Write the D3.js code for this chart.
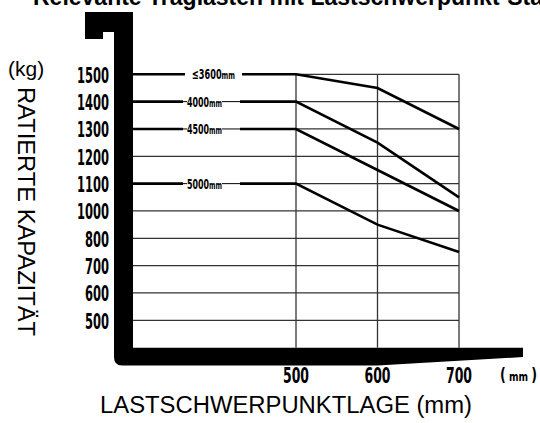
<!DOCTYPE html>
<html>
<head>
<meta charset="utf-8">
<script src="https://cdn.jsdelivr.net/npm/d3@7"></script>
<style>
  html, body { margin: 0; padding: 0; background: #fff; }
  svg { display: block; }
</style>
</head>
<body>
<div id="chart"></div>
<script>
// capacity ticks (kg), top to bottom - equally spaced on the chart
const capacityTicks = [1500, 1400, 1300, 1200, 1100, 1000, 800, 700, 600, 500];
// load centre ticks (mm)
const loadCentres = [500, 600, 700];
// lift heights
const seriesNames = ["≤3600", "4000", "4500", "5000"];
// capacities at 500 / 600 / 700 mm load centre
const cap3600 = [1500, 1450, 1300];
const cap4000 = [1400, 1250, 1050];
const cap4500 = [1300, 1150, 1000];
const cap5000 = [1100, 900, 750];

const width = 540, height = 423;
const condensed = "'Liberation Sans Narrow', 'DejaVu Sans Condensed', 'Liberation Sans', Arial, sans-serif";
const regular = "'Liberation Sans', Arial, sans-serif";

const svg = d3.select("#chart").append("svg")
    .attr("width", width)
    .attr("height", height);

// y: tick labels sit on equal steps, values map piecewise between them
const yPoint = d3.scalePoint().domain(capacityTicks).range([74.3, 320.3]);
const y = d3.scaleLinear().domain(capacityTicks).range(capacityTicks.map(d => yPoint(d)));
const step = yPoint.step();
const plotBottom = yPoint(500) + step;

// x: the flat part of each line starts at the fork face (300 mm)
const x = d3.scaleLinear().domain([300, 700]).range([133, 459]);
const plotLeft = x(300), plotRight = x(700);

// title (cut off by the top edge)
svg.append("text")
    .attr("x", 33).attr("y", 5)
    .attr("font-family", regular)
    .attr("font-weight", "bold")
    .attr("font-size", 23)
    .text("Relevante Traglasten mit Lastschwerpunkt-Stapelhöhe");

// grid
const grid = svg.append("g").attr("stroke", "#333").attr("stroke-width", 1.3);
grid.selectAll("line.h")
    .data(capacityTicks)
    .join("line")
    .attr("class", "h")
    .attr("x1", plotLeft).attr("x2", plotRight)
    .attr("y1", d => yPoint(d)).attr("y2", d => yPoint(d));
grid.selectAll("line.v")
    .data(loadCentres)
    .join("line")
    .attr("class", "v")
    .attr("x1", d => x(d)).attr("x2", d => x(d))
    .attr("y1", yPoint(1500)).attr("y2", plotBottom);

// capacity lines
const series = [cap3600, cap4000, cap4500, cap5000].map((vals, i) => ({
    name: seriesNames[i],
    points: [[300, vals[0]]].concat(loadCentres.map((c, j) => [c, vals[j]]))
}));
const line = d3.line().x(d => x(d[0])).y(d => y(d[1]));

svg.append("g")
    .selectAll("path")
    .data(series)
    .join("path")
    .attr("d", d => line(d.points))
    .attr("fill", "none")
    .attr("stroke", "#000")
    .attr("stroke-width", 2.6);

// line labels (one text, number + small unit)
const labels = svg.append("g");
series.forEach((s, i) => {
    const ly = y(s.points[0][1]);
    const first = i === 0;
    labels.append("rect")
        .attr("x", first ? 185 : 183).attr("width", 57)
        .attr("y", ly - 6).attr("height", 12)
        .attr("fill", "#fff");
    if (!first) {
        labels.append("line")
            .attr("x1", 183).attr("x2", 240)
            .attr("y1", ly).attr("y2", ly)
            .attr("stroke", "#000").attr("stroke-width", 1);
        labels.append("rect")
            .attr("x", 187).attr("width", 35)
            .attr("y", ly - 6).attr("height", 12)
            .attr("fill", "#fff");
    }
    const t = labels.append("text")
        .attr("x", first ? 192 : 187)
        .attr("y", ly + 5)
        .attr("font-family", condensed)
        .attr("font-weight", "bold")
        .attr("font-size", 14)
        .attr("textLength", first ? 43 : 35)
        .attr("lengthAdjust", "spacingAndGlyphs");
    t.append("tspan").text(s.name);
    t.append("tspan").attr("font-size", 11).attr("font-weight", 900).text("mm");
});

// fork shape
const fork = d3.path();
fork.moveTo(85, 12);
fork.lineTo(plotLeft, 12);
fork.lineTo(plotLeft, plotBottom);
fork.lineTo(523, plotBottom);
fork.lineTo(523, 357);
fork.lineTo(x(600), 365.5);
fork.lineTo(122, 365.5);
fork.quadraticCurveTo(114, 365.5, 114, 357);
fork.lineTo(114, 32);
fork.lineTo(103, 32);
fork.lineTo(103, 39);
fork.lineTo(85, 39);
fork.closePath();
svg.append("path").attr("d", fork.toString()).attr("fill", "#000");

// y tick labels
svg.append("g")
    .selectAll("text")
    .data(capacityTicks)
    .join("text")
    .attr("x", 109)
    .attr("y", d => yPoint(d) + 8.5)
    .attr("text-anchor", "end")
    .attr("font-family", condensed)
    .attr("font-weight", "bold")
    .attr("font-size", 21)
    .attr("textLength", d => String(d).length * 8)
    .attr("lengthAdjust", "spacingAndGlyphs")
    .text(d => d);

// x tick labels
svg.append("g")
    .selectAll("text")
    .data(loadCentres)
    .join("text")
    .attr("x", d => x(d) - 13)
    .attr("y", 383)
    .attr("font-family", condensed)
    .attr("font-weight", "bold")
    .attr("font-size", 21)
    .attr("textLength", 26)
    .attr("lengthAdjust", "spacingAndGlyphs")
    .text(d => d);

// unit (mm)
const unit = svg.append("text")
    .attr("x", 500).attr("y", 381)
    .attr("font-family", condensed)
    .attr("font-weight", "bold")
    .attr("font-size", 18)
    .attr("textLength", 37)
    .attr("lengthAdjust", "spacingAndGlyphs");
unit.append("tspan").text("(");
unit.append("tspan").attr("font-size", 13).text(" mm ");
unit.append("tspan").text(")");

// unit (kg)
svg.append("text")
    .attr("x", 8).attr("y", 76)
    .attr("font-family", regular)
    .attr("font-size", 21)
    .text("(kg)");

// axis titles
svg.append("text")
    .attr("transform", "translate(18,87) rotate(90)")
    .attr("font-family", regular)
    .attr("font-size", 23)
    .attr("textLength", 249)
    .attr("lengthAdjust", "spacingAndGlyphs")
    .text("RATIERTE KAPAZITÄT");

svg.append("text")
    .attr("x", 100).attr("y", 413)
    .attr("font-family", regular)
    .attr("font-size", 23)
    .attr("textLength", 372)
    .attr("lengthAdjust", "spacingAndGlyphs")
    .text("LASTSCHWERPUNKTLAGE (mm)");
</script>
</body>
</html>
